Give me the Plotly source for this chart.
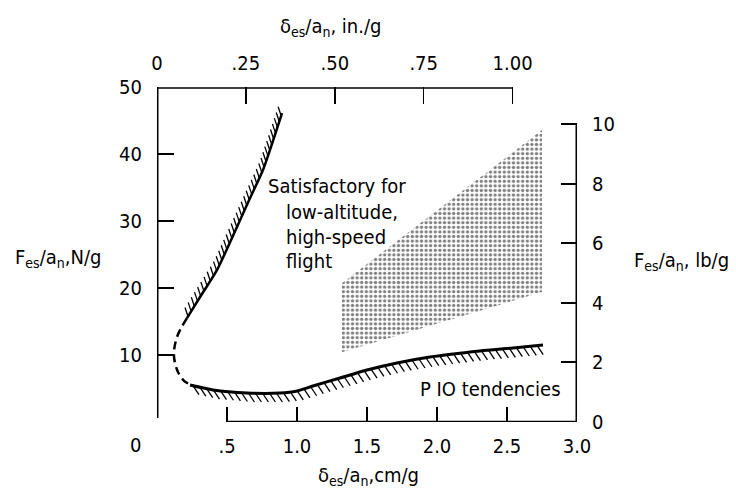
import numpy as np
import plotly.graph_objects as go

# ---------------- data ----------------
# Upper-left boundary (solid, hatched on the upper-left side), cm/g vs N/g
upper_x = [0.214, 0.321, 0.429, 0.664, 0.757, 0.893]
upper_y = [15.5, 19.1, 22.7, 33.4, 37.6, 46.1]
# Dashed connecting portion
dash_x = [0.214, 0.143, 0.121, 0.143, 0.186, 0.243]
dash_y = [15.5, 12.7, 10.0, 7.8, 6.3, 5.5]
# Lower boundary (solid, hatched below) - PIO boundary
lower_x = [0.236, 0.40, 0.643, 0.879, 1.0, 1.114, 1.307, 1.5, 1.714, 1.95, 2.307, 2.543, 2.757]
lower_y = [5.52, 4.78, 4.33, 4.33, 4.63, 5.37, 6.57, 7.76, 8.81, 9.70, 10.6, 11.04, 11.49]
# Stippled region: satisfactory for low-altitude, high-speed flight
region_x = [1.32, 2.75, 2.75, 1.32, 1.32]
region_y = [10.4, 19.4, 43.6, 20.7, 10.4]

# Tick values / labels
x_cm_ticks = [0.5, 1.0, 1.5, 2.0, 2.5, 3.0]
x_cm_labels = [".5", "1.0", "1.5", "2.0", "2.5", "3.0"]
y_n_ticks = [10, 20, 30, 40, 50]
y_n_labels = ["10", "20", "30", "40", "50"]
x_in_ticks = [0, 0.25, 0.50, 0.75, 1.00]
x_in_labels = ["0", ".25", ".50", ".75", "1.00"]
y_lb_ticks = [0, 2, 4, 6, 8, 10]
y_lb_labels = ["0", "2", "4", "6", "8", "10"]

CM_PER_IN = 2.54
N_PER_LB = 4.448

# ---------------- geometry helpers ----------------
W, H = 736, 494
ML, MR, MT, MB = 157, 159, 87, 72
PW, PH = W - ML - MR, H - MT - MB
XR, YR = [0, 3.0], [0, 50]
SX = PW / (XR[1] - XR[0])
SY = PH / (YR[1] - YR[0])

FONT = "DejaVu Sans Condensed, Liberation Sans Narrow, Arial Narrow, Roboto, sans-serif"
FS = 20


def hatch(xs, ys, spacing, dxp, dyp, start=0.0):
    X = np.array(xs) * SX
    Y = np.array(ys) * SY
    seg = np.hypot(np.diff(X), np.diff(Y))
    s = np.concatenate([[0], np.cumsum(seg)])
    samples = np.arange(start, s[-1] + 0.01, spacing)
    px = np.interp(samples, s, X)
    py = np.interp(samples, s, Y)
    hx, hy = [], []
    for a, b in zip(px, py):
        hx += [a / SX, (a + dxp) / SX, None]
        hy += [b / SY, (b + dyp) / SY, None]
    return hx, hy


def px2paper(px, py):
    return (px - ML) / PW, (H - MB - py) / PH


fig = go.Figure()

# stippled region
fig.add_trace(go.Scatter(
    x=region_x, y=region_y, mode="lines", fill="toself",
    line=dict(width=0, color="rgba(0,0,0,0)"),
    fillcolor="white",
    fillpattern=dict(shape=".", fgcolor="black", bgcolor="white", size=4.6, solidity=0.42),
    hoverinfo="skip", showlegend=False))

# hatches
ux, uy = hatch(upper_x, upper_y, 6, -3, 9, start=2)
fig.add_trace(go.Scatter(x=ux, y=uy, mode="lines", line=dict(color="black", width=1.3),
                         hoverinfo="skip", showlegend=False))
lx, ly = hatch(lower_x, lower_y, 7, 6, -9, start=3)
fig.add_trace(go.Scatter(x=lx, y=ly, mode="lines", line=dict(color="black", width=1.3),
                         hoverinfo="skip", showlegend=False))

# boundary lines
fig.add_trace(go.Scatter(x=upper_x, y=upper_y, mode="lines",
                         line=dict(color="black", width=2.5, shape="spline", smoothing=0.6),
                         hoverinfo="skip", showlegend=False))
fig.add_trace(go.Scatter(x=dash_x, y=dash_y, mode="lines",
                         line=dict(color="black", width=2.5, dash="8px,5px", shape="spline"),
                         hoverinfo="skip", showlegend=False))
fig.add_trace(go.Scatter(x=lower_x, y=lower_y, mode="lines",
                         line=dict(color="black", width=3, shape="spline", smoothing=0.6),
                         hoverinfo="skip", showlegend=False))

# secondary-axis dummy traces so the axes render
fig.add_trace(go.Scatter(x=[None], y=[None], xaxis="x2", yaxis="y", showlegend=False))
fig.add_trace(go.Scatter(x=[None], y=[None], xaxis="x", yaxis="y2", showlegend=False))

# axis frame lines
fig.add_shape(type="line", xref="x", yref="y", x0=0, x1=0, y0=0.6, y1=50,
              line=dict(color="black", width=3))
fig.add_shape(type="line", xref="x", yref="y", x0=0.5, x1=3.0, y0=0, y1=0,
              line=dict(color="black", width=2.5))
fig.add_shape(type="line", xref="x", yref="y", x0=3.0, x1=3.0, y0=0, y1=10 * N_PER_LB,
              line=dict(color="black", width=3))
fig.add_shape(type="line", xref="x", yref="y", x0=0, x1=1.0 * CM_PER_IN, y0=49.85, y1=49.85,
              line=dict(color="black", width=1.5))

tickfont = dict(family=FONT, size=FS, color="black")
fig.update_layout(
    width=W, height=H,
    margin=dict(l=ML, r=MR, t=MT, b=MB, pad=0),
    paper_bgcolor="white", plot_bgcolor="white",
    font=dict(family=FONT, size=FS, color="black"),
    xaxis=dict(range=XR, tickvals=x_cm_ticks, ticktext=x_cm_labels, ticks="inside",
               ticklen=15, tickwidth=2, tickcolor="black", showgrid=False, zeroline=False,
               showline=False, tickfont=tickfont, ticklabelstandoff=10, fixedrange=True),
    yaxis=dict(range=YR, tickvals=y_n_ticks, ticktext=y_n_labels, ticks="inside",
               ticklen=17, tickwidth=2, tickcolor="black", showgrid=False, zeroline=False,
               showline=False, tickfont=tickfont, ticklabelstandoff=14, fixedrange=True),
    xaxis2=dict(range=[0, XR[1] / CM_PER_IN], tickvals=x_in_ticks, ticktext=x_in_labels,
                overlaying="x", side="top", anchor="y", ticks="inside", ticklen=17,
                tickwidth=1.5, tickcolor="black", showgrid=False, zeroline=False,
                showline=False, tickfont=tickfont, ticklabelstandoff=12, fixedrange=True),
    yaxis2=dict(range=[0, YR[1] / N_PER_LB], tickvals=y_lb_ticks, ticktext=y_lb_labels,
                overlaying="y", side="right", anchor="x", ticks="inside", ticklen=16,
                tickwidth=2, tickcolor="black", showgrid=False, zeroline=False,
                showline=False, tickfont=tickfont, ticklabelstandoff=14, fixedrange=True),
)


def ann(text, px, py, xanchor="center", size=FS):
    x, y = px2paper(px, py)
    fig.add_annotation(text=text, x=x, y=y, xref="paper", yref="paper", showarrow=False,
                       xanchor=xanchor, yanchor="middle", align="left",
                       font=dict(family=FONT, size=size, color="black"))


ann("0", 135, 445)
ann("δ<sub>es</sub>/a<sub>n</sub>, in./g", 330, 27)
ann("δ<sub>es</sub>/a<sub>n</sub>,cm/g", 368, 476)
ann("F<sub>es</sub>/a<sub>n</sub>,N/g", 58, 258)
ann("F<sub>es</sub>/a<sub>n</sub>, lb/g", 681, 261)
ann("Satisfactory for", 266, 186, xanchor="left")
ann("low-altitude,", 284, 212, xanchor="left")
ann("high-speed", 284, 237, xanchor="left")
ann("flight", 284, 261, xanchor="left")
ann("P IO tendencies", 418, 389, xanchor="left")

fig.write_html(
    "out.html",
    config={"displayModeBar": False, "staticPlot": True},
    post_script="document.body.style.margin='0';document.body.style.padding='0';",
)
